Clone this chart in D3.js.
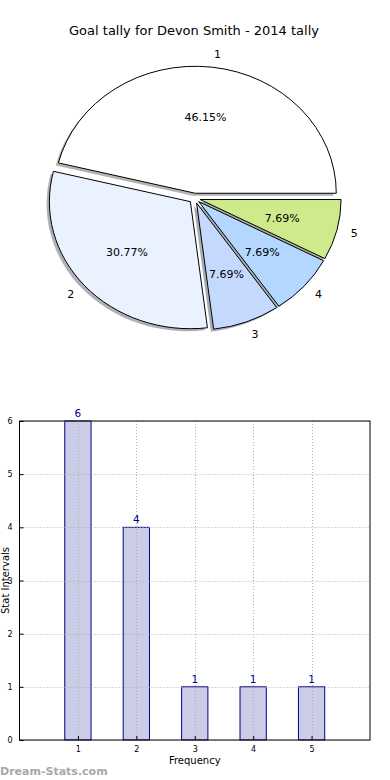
<!DOCTYPE html>
<html>
<head>
<meta charset="utf-8">
<script src="https://cdn.jsdelivr.net/npm/d3@7"></script>
<style>
  body { margin: 0; background: #fff; }
  svg { display: block; font-family: "DejaVu Sans", sans-serif; }
</style>
</head>
<body>
<div id="chart"></div>
<script>
// data
const titleText = "Goal tally for Devon Smith - 2014 tally";
const categories = [1, 2, 3, 4, 5];
const tallies = [6, 4, 1, 1, 1];
const sliceColors = ["#ffffff", "#ebf2ff", "#c5d9ff", "#b3d7ff", "#cdeb8b"];
const yTicks = [0, 1, 2, 3, 4, 5, 6];
const xTicks = [1, 2, 3, 4, 5];

let W = 390, H = 780;
let svg = d3.select("#chart").append("svg")
  .attr("width", W)
  .attr("height", H);

//////////
// PIE //
//////////
svg.append("text")
  .attr("x", 194)
  .attr("y", 35)
  .attr("text-anchor", "middle")
  .style("font-size", "13px")
  .text(titleText);

let cx = 194.6, cy = 198.3, rx = 141, ry = 127, explode = 0.04;
let total = d3.sum(tallies);

// matplotlib style: start at 3 o'clock, go counterclockwise
let pie = d3.pie().sort(null)
  .startAngle(Math.PI / 2)
  .endAngle(Math.PI / 2 - 2 * Math.PI);
let arcs = pie(tallies);
let arc = d3.arc().innerRadius(0).outerRadius(1);

function mid(d) { return (d.startAngle + d.endAngle) / 2; }
function centerOf(d) {
  let m = mid(d);
  return [cx + explode * rx * Math.sin(m), cy - explode * ry * Math.cos(m)];
}

let pieG = svg.append("g");
// shadows
pieG.selectAll("path.shadow")
  .data(arcs)
  .enter()
  .append("path")
  .attr("class", "shadow")
  .attr("transform", d => {
    let c = centerOf(d);
    return "translate(" + (c[0] - 2.8) + "," + (c[1] + 2.5) + ") scale(" + rx + "," + ry + ")";
  })
  .attr("d", arc)
  .style("fill", (d, i) => d3.rgb(sliceColors[i]).darker(2.5))
  .style("fill-opacity", 0.5);

pieG.selectAll("path.wedge")
  .data(arcs)
  .enter()
  .append("path")
  .attr("class", "wedge")
  .attr("transform", d => {
    let c = centerOf(d);
    return "translate(" + c[0] + "," + c[1] + ") scale(" + rx + "," + ry + ")";
  })
  .attr("d", arc)
  .style("fill", (d, i) => sliceColors[i])
  .style("stroke", "#000")
  .style("stroke-width", 1)
  .attr("vector-effect", "non-scaling-stroke");

// category labels at 1.1 r
pieG.selectAll("text.lbl")
  .data(arcs)
  .enter()
  .append("text")
  .attr("class", "lbl")
  .attr("x", d => centerOf(d)[0] + 1.1 * rx * Math.sin(mid(d)))
  .attr("y", d => centerOf(d)[1] - 1.1 * ry * Math.cos(mid(d)))
  .attr("dy", "0.35em")
  .attr("text-anchor", d => Math.sin(mid(d)) > 0 ? "start" : "end")
  .style("font-size", "11px")
  .text((d, i) => categories[i]);

// percentages at 0.6 r
pieG.selectAll("text.pct")
  .data(arcs)
  .enter()
  .append("text")
  .attr("class", "pct")
  .attr("x", d => centerOf(d)[0] + 0.6 * rx * Math.sin(mid(d)))
  .attr("y", d => centerOf(d)[1] - 0.6 * ry * Math.cos(mid(d)))
  .attr("dy", "0.35em")
  .attr("text-anchor", "middle")
  .style("font-size", "11px")
  .text(d => (d.value / total * 100).toFixed(2) + "%");

//////////
// BARS //
//////////
let plotLeft = 19.5, plotRight = 370, plotTop = 421, plotBottom = 740;
let x = d3.scaleLinear().domain([0, 6]).range([plotLeft, plotRight]);
let y = d3.scaleLinear().domain([0, 6]).range([plotBottom, plotTop]);
let barW = x(0.45) - x(0);

let barG = svg.append("g");
barG.selectAll("rect.bar")
  .data(tallies)
  .enter()
  .append("rect")
  .attr("class", "bar")
  .attr("x", (d, i) => x(categories[i]) - barW / 2)
  .attr("y", d => y(d))
  .attr("width", barW)
  .attr("height", d => y(0) - y(d))
  .style("fill", "#cbcce6")
  .style("stroke", "#000088")
  .style("stroke-width", 1);

// grid (drawn over bars)
let grid = svg.append("g")
  .style("stroke", "#b0b0b0")
  .style("stroke-width", 1)
  .style("stroke-dasharray", "1,2");
grid.selectAll("line.gx")
  .data(xTicks)
  .enter()
  .append("line")
  .attr("x1", d => Math.round(x(d)) + 0.5)
  .attr("x2", d => Math.round(x(d)) + 0.5)
  .attr("y1", plotTop)
  .attr("y2", plotBottom);
grid.selectAll("line.gy")
  .data(yTicks)
  .enter()
  .append("line")
  .attr("y1", d => Math.round(y(d)) + 0.5)
  .attr("y2", d => Math.round(y(d)) + 0.5)
  .attr("x1", plotLeft)
  .attr("x2", plotRight);

// frame
svg.append("rect")
  .attr("x", plotLeft)
  .attr("y", plotTop)
  .attr("width", plotRight - plotLeft)
  .attr("height", plotBottom - plotTop)
  .style("fill", "none")
  .style("stroke", "#000")
  .style("stroke-width", 1);

// axes with inward ticks
svg.append("g")
  .attr("transform", "translate(" + plotLeft + ",0)")
  .call(d3.axisLeft(y).tickValues(yTicks).tickFormat(d3.format("d"))
    .tickSizeInner(-4).tickSizeOuter(0).tickPadding(7))
  .call(g => g.select(".domain").remove())
  .call(g => g.selectAll("text").style("font-size", "8px").style("font-family", "DejaVu Sans"));
svg.append("g")
  .attr("transform", "translate(0," + plotBottom + ")")
  .call(d3.axisBottom(x).tickValues(xTicks).tickFormat(d3.format("d"))
    .tickSizeInner(-4).tickSizeOuter(0).tickPadding(6))
  .call(g => g.select(".domain").remove())
  .call(g => g.selectAll("text").style("font-size", "8px").style("font-family", "DejaVu Sans"));

// value labels (above the grid)
svg.append("g").selectAll("text.val")
  .data(tallies)
  .enter()
  .append("text")
  .attr("class", "val")
  .attr("x", (d, i) => x(categories[i]))
  .attr("y", d => y(d) - 4)
  .attr("text-anchor", "middle")
  .style("font-size", "10.5px")
  .style("fill", "#000088")
  .text(d => d);

svg.append("text")
  .attr("x", (plotLeft + plotRight) / 2)
  .attr("y", 764)
  .attr("text-anchor", "middle")
  .style("font-size", "10px")
  .text("Frequency");

svg.append("text")
  .attr("transform", "translate(9," + (plotTop + plotBottom) / 2 + ") rotate(-90)")
  .attr("text-anchor", "middle")
  .style("font-size", "10px")
  .text("Stat Intervals");

svg.append("text")
  .attr("x", 0)
  .attr("y", 775)
  .style("font-size", "11px")
  .style("font-weight", "bold")
  .style("fill", "#a8a8a8")
  .text("Dream-Stats.com");
</script>
</body>
</html>
